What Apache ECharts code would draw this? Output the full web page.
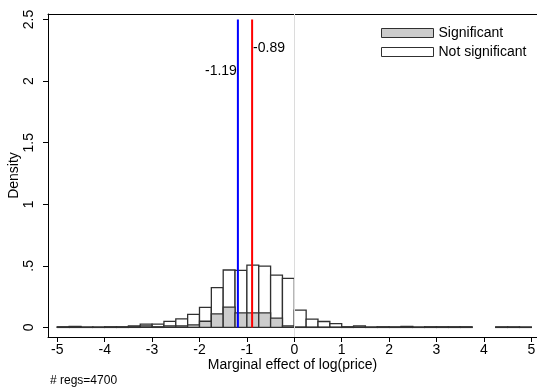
<!DOCTYPE html>
<html>
<head>
<meta charset="utf-8">
<script src="https://cdn.jsdelivr.net/npm/echarts@6/dist/echarts.min.js"></script>
<style>html,body{margin:0;padding:0;background:#fff;}#c{width:537px;height:389px;}</style>
</head>
<body>
<div id="c"></div>
<script>
// Bin left edges (bin width 0.25)
var binLeft = [-5, -4.75, -4.5, -4.25, -4, -3.75, -3.5, -3.25, -3, -2.75,
  -2.5, -2.25, -2, -1.75, -1.5, -1.25, -1, -0.75, -0.5, -0.25,
  0, 0.25, 0.5, 0.75, 1, 1.25, 1.5, 1.75, 2, 2.25,
  2.5, 2.75, 3, 3.25, 3.5, 3.75, 4, 4.25, 4.5, 4.75];
var BIN_WIDTH = 0.25;
// Density of all regressions ("Not significant" outline bars)
var totalDensity = [0.005, 0.008, 0.003, 0.003, 0.005, 0.005, 0.013, 0.027, 0.027, 0.049,
  0.07, 0.105, 0.163, 0.323, 0.466, 0.463, 0.505, 0.498, 0.424, 0.398,
  0.14, 0.067, 0.048, 0.031, 0.005, 0.012, 0.003, 0.005, 0.004, 0.008,
  0.003, 0.005, 0.005, 0.005, 0.005, 0, 0, 0.004, 0.004, 0.003];
// Density of significant estimates (grey bars)
var sigDensity = [0.002, 0.002, 0.001, 0.001, 0.002, 0.002, 0.005, 0.013, 0.005, 0.013,
  0.013, 0.02, 0.05, 0.11, 0.165, 0.118, 0.118, 0.118, 0.076, 0.012,
  0.003, 0.002, 0.002, 0.002, 0.002, 0.002, 0.001, 0.002, 0.002, 0.001,
  0.001, 0.002, 0.002, 0.002, 0.002, 0, 0, 0.002, 0.002, 0.001];
var xTicks = [-5, -4, -3, -2, -1, 0, 1, 2, 3, 4, 5];
var yTicks = [0, 0.5, 1, 1.5, 2, 2.5];
var yTickLabels = ['0', '.5', '1', '1.5', '2', '2.5'];
// Reference lines: [x, label, label y position]
var refLines = [[-1.19, '-1.19', 2.08], [-0.89, '-0.89', 2.27]];
var refLineTop = 2.5;
var nRegs = 4700;

var FONT = '"Liberation Sans", Arial, Helvetica, sans-serif';
var chart = echarts.init(document.getElementById('c'), null, {renderer: 'canvas'});

function histData(vals) {
  var out = [];
  for (var i = 0; i < binLeft.length; i++) {
    if (totalDensity[i] > 0) out.push([binLeft[i], vals[i]]);
  }
  return out;
}
function barRender(fill) {
  return function (params, api) {
    var x0 = api.value(0), h = api.value(1);
    var p0 = api.coord([x0, 0]);
    var p1 = api.coord([x0 + BIN_WIDTH, h]);
    return {
      type: 'rect',
      shape: {x: p0[0], y: p1[1], width: p1[0] - p0[0], height: p0[1] - p1[1]},
      style: {fill: fill, stroke: '#303030', lineWidth: 1.3}
    };
  };
}

var option = {
  animation: false,
  backgroundColor: '#fff',
  textStyle: {fontFamily: FONT},
  grid: {left: 48, right: 0, top: 14, bottom: 52, containLabel: false, outerBoundsMode: 'none'},
  legend: {
    orient: 'vertical', left: 376, top: 21,
    itemWidth: 52, itemHeight: 9, itemGap: 5,
    textStyle: {fontSize: 14, color: '#000', fontFamily: FONT},
    data: [
      {name: 'Significant', icon: 'rect', itemStyle: {color: '#cccccc', borderColor: '#303030', borderWidth: 1}},
      {name: 'Not significant', icon: 'rect', itemStyle: {color: '#ffffff', borderColor: '#303030', borderWidth: 1}}
    ]
  },
  xAxis: [{
    type: 'value', min: -5.196, max: 5.12, position: 'bottom',
    axisLine: {show: true, onZero: false, lineStyle: {color: '#000', width: 1}},
    axisTick: {show: true, customValues: xTicks, length: 5, lineStyle: {color: '#000'}},
    axisLabel: {customValues: xTicks, fontSize: 14, color: '#000', margin: 6.5, fontFamily: FONT},
    splitLine: {show: false},
    name: 'Marginal effect of log(price)', nameLocation: 'middle', nameGap: 21, nameMoveOverlap: false,
    nameTextStyle: {fontSize: 14, color: '#000', fontFamily: FONT}
  }, {
    type: 'value', min: -5.196, max: 5.12, position: 'top',
    axisLine: {show: true, onZero: false, lineStyle: {color: '#000', width: 1}},
    axisTick: {show: false}, axisLabel: {show: false}, splitLine: {show: false}
  }],
  yAxis: {
    type: 'value', min: -0.078, max: 2.545,
    axisLine: {show: true, onZero: false, lineStyle: {color: '#000', width: 1}},
    axisTick: {show: true, customValues: yTicks, length: 5, lineStyle: {color: '#000'}},
    axisLabel: {customValues: yTicks, rotate: 90, fontSize: 14, color: '#000', margin: 11.5, fontFamily: FONT,
      formatter: function (v) { var i = yTicks.indexOf(v); return i >= 0 ? yTickLabels[i] : ''; }},
    splitLine: {show: false},
    name: 'Density', nameLocation: 'middle', nameGap: 27, nameMoveOverlap: false,
    nameTextStyle: {fontSize: 14, color: '#000', fontFamily: FONT}
  },
  series: [
    {
      name: 'Not significant', type: 'custom', xAxisIndex: 0, z: 2,
      renderItem: barRender('#ffffff'), encode: {x: 0, y: 1},
      data: histData(totalDensity),
      markLine: {
        silent: true, symbol: 'none', label: {show: false},
        lineStyle: {color: '#dcdcdc', width: 1, type: 'solid'},
        data: [{xAxis: 0}]
      }
    },
    {
      name: 'Significant', type: 'custom', xAxisIndex: 0, z: 3,
      renderItem: barRender('#cccccc'), encode: {x: 0, y: 1},
      data: histData(sigDensity)
    },
    {
      name: 'refs', type: 'custom', xAxisIndex: 0, z: 5,
      encode: {x: 0, y: 2},
      data: refLines.map(function (r, i) { return [r[0], i, r[2]]; }),
      renderItem: function (params, api) {
        var x = api.value(0), idx = api.value(1), ly = api.value(2);
        var pb = api.coord([x, 0]), pt = api.coord([x, refLineTop]);
        var pl = api.coord([x, ly]);
        var color = idx === 0 ? '#0000ff' : '#ff0000';
        return {
          type: 'group',
          children: [
            {type: 'line', shape: {x1: pb[0], y1: pb[1], x2: pt[0], y2: pt[1]},
              style: {stroke: color, lineWidth: 2}},
            {type: 'text', x: idx === 0 ? pl[0] - 1 : pl[0] + 1, y: pl[1],
              style: {text: refLines[idx][1], fill: '#000', font: '14px ' + FONT,
                align: idx === 0 ? 'right' : 'left', verticalAlign: 'middle'}}
          ]
        };
      }
    }
  ],
  graphic: [{
    type: 'text', left: 50, top: 375,
    style: {text: '# regs=' + nRegs, fill: '#000', font: '12px ' + FONT}
  }]
};
chart.setOption(option);
</script>
</body>
</html>
